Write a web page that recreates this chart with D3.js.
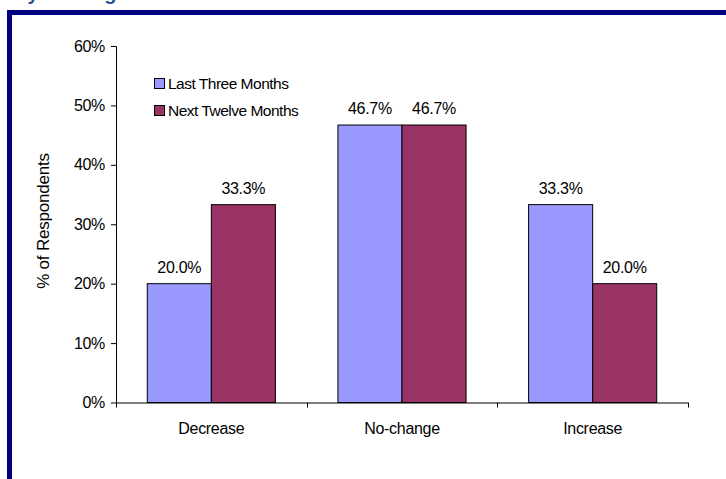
<!DOCTYPE html>
<html>
<head>
<meta charset="utf-8">
<script src="https://cdn.jsdelivr.net/npm/d3@7"></script>
<style>
  body { margin: 0; background: #fff; }
  svg { display: block; font-family: Arial, "Liberation Sans", sans-serif; }
</style>
</head>
<body>
<div id="canvas"></div>
<script>
// data
const categories = ["Decrease", "No-change", "Increase"];
const seriesNames = ["Last Three Months", "Next Twelve Months"];
const lastThree = [20.0, 46.7, 33.3];
const nextTwelve = [33.3, 46.7, 20.0];
const yTicks = [0, 10, 20, 30, 40, 50, 60];

const width = 726, height = 479;
const plot = { left: 116, right: 688, top: 46, bottom: 402.5 };
const colors = { frame: "#000080", title: "#1F5491", series: ["#9999FF", "#993366"] };
const fontSize = 16;

var svg = d3.select("#canvas")
    .append("svg")
    .attr("width", width)
    .attr("height", height)

// frame (slide border, top + left)
svg.append("rect").attr("x", 7).attr("y", 10).attr("width", width - 7).attr("height", 5).attr("fill", colors.frame)
svg.append("rect").attr("x", 7).attr("y", 10).attr("width", 5).attr("height", height - 10).attr("fill", colors.frame)

// title, cut off at the top edge as in the original slide
svg.append("text")
    .attr("x", 2)
    .attr("y", 0)
    .attr("fill", colors.title)
    .attr("font-size", 20)
    .attr("font-weight", "bold")
    .text("Key Findings")

// scales
var yScale = d3.scaleLinear()
    .domain([0, 60])
    .range([plot.bottom, plot.top])

var x0 = d3.scaleBand()
    .domain(categories)
    .range([plot.left, plot.right])

var gap = x0.bandwidth() * 0.164
var x1 = d3.scaleBand()
    .domain(seriesNames)
    .range([gap, x0.bandwidth() - gap])

// y axis
var yAxis = d3.axisLeft(yScale)
    .tickValues(yTicks)
    .tickSize(5)
    .tickPadding(6)
    .tickFormat(d => d + "%")

var yG = svg.append("g")
    .attr("transform", `translate(${plot.left},0)`)
    .call(yAxis)
yG.attr("font-size", null).attr("font-family", null)
yG.select(".domain").attr("stroke", "#000").attr("d", `M-5,${plot.top + 0.5}H0.5V${plot.bottom}`)
yG.selectAll(".tick line").attr("stroke", "#000")
yG.selectAll(".tick text").attr("font-size", fontSize).attr("fill", "#000").attr("letter-spacing", -0.3)

// bars
const values = [lastThree, nextTwelve];
seriesNames.forEach(function(name, s) {
    svg.selectAll(".bar-" + s)
        .data(categories)
        .join("rect")
        .attr("class", "bar-" + s)
        .attr("x", d => x0(d) + x1(name))
        .attr("y", (d, i) => yScale(values[s][i]))
        .attr("width", x1.bandwidth())
        .attr("height", (d, i) => plot.bottom - yScale(values[s][i]))
        .attr("fill", colors.series[s])
        .attr("stroke", "#000")
        .attr("stroke-width", 1)

    svg.selectAll(".label-" + s)
        .data(categories)
        .join("text")
        .attr("class", "label-" + s)
        .attr("x", d => x0(d) + x1(name) + x1.bandwidth() / 2)
        .attr("y", (d, i) => yScale(values[s][i]) - 11)
        .attr("text-anchor", "middle")
        .attr("font-size", fontSize)
        .attr("letter-spacing", -0.3)
        .text((d, i) => values[s][i].toFixed(1) + "%")
})

// x axis
var xAxis = d3.axisBottom(x0).tickSize(0).tickPadding(0).tickFormat("")
var xG = svg.append("g")
    .attr("transform", `translate(0,${plot.bottom})`)
    .call(xAxis)
xG.select(".domain").attr("stroke", "#000").attr("d", `M${plot.left},0.5H${plot.right}`)

// x ticks at category boundaries
svg.selectAll(".xtick")
    .data(categories.concat(["end"]))
    .join("line")
    .attr("x1", (d, i) => i < categories.length ? Math.round(x0(d)) + 0.5 : plot.right + 0.5)
    .attr("x2", (d, i) => i < categories.length ? Math.round(x0(d)) + 0.5 : plot.right + 0.5)
    .attr("y1", plot.bottom)
    .attr("y2", plot.bottom + 5)
    .attr("stroke", "#000")

svg.selectAll(".xlabel")
    .data(categories)
    .join("text")
    .attr("x", d => x0(d) + x0.bandwidth() / 2)
    .attr("y", 434)
    .attr("text-anchor", "middle")
    .attr("font-size", fontSize)
    .attr("letter-spacing", -0.3)
    .text(d => d)

// y axis title
svg.append("text")
    .attr("transform", "translate(49,221) rotate(-90)")
    .attr("text-anchor", "middle")
    .attr("font-size", 17)
    .attr("letter-spacing", -0.2)
    .text("% of Respondents")

// legend
var legend = svg.selectAll(".legend")
    .data(seriesNames)
    .join("g")
    .attr("transform", (d, i) => `translate(154,${78 + i * 27})`)

legend.append("rect")
    .attr("x", 0.5)
    .attr("y", 0.5)
    .attr("width", 10)
    .attr("height", 10)
    .attr("fill", (d, i) => colors.series[i])
    .attr("stroke", "#000")

legend.append("text")
    .attr("x", 14)
    .attr("y", 10.5)
    .attr("font-size", 15.5)
    .attr("letter-spacing", -0.5)
    .text(d => d)
</script>
</body>
</html>
